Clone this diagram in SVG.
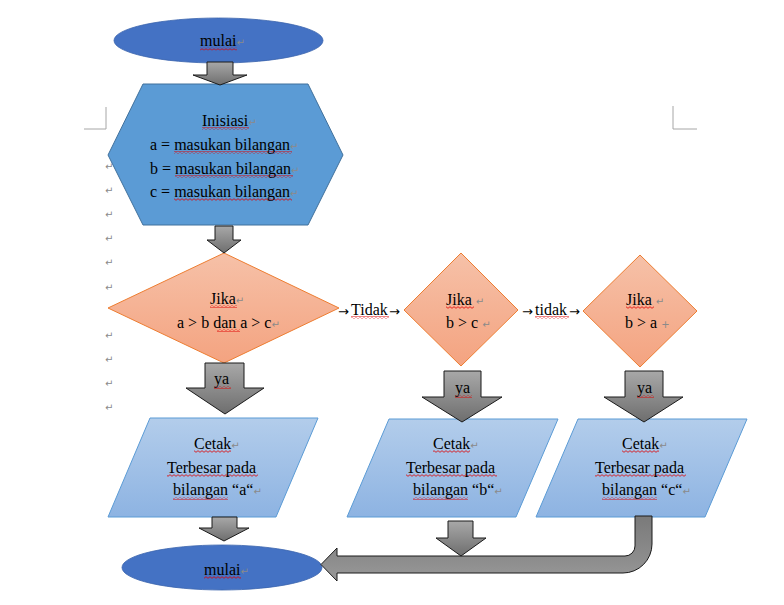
<svg xmlns="http://www.w3.org/2000/svg" width="784" height="605" viewBox="0 0 784 605">
<style>
.t{font-family:"Liberation Serif","Times New Roman",serif;font-size:16px;fill:#000}
.ar{font-family:"DejaVu Sans",sans-serif;font-size:13px;fill:#000}
.pm{font-family:"DejaVu Sans",sans-serif;font-size:10px;fill:#8a8a8a}
.arr{fill:url(#gray);stroke:#1a1a1a;stroke-width:1}
.ell{fill:#4472C4;stroke:#3b64ad;stroke-width:0.8}
.dia{fill:url(#peach);stroke:#ED7D31;stroke-width:1}
.par{fill:url(#lblue);stroke:#5B9BD5;stroke-width:1}
.sq{fill:url(#wave)}
.crn{fill:none;stroke:#a6a6a6;stroke-width:1}
</style>
<defs>
<linearGradient id="gray" x1="0" y1="0" x2="0" y2="1">
<stop offset="0" stop-color="#a8a8a8"/><stop offset="1" stop-color="#6e6e6e"/>
</linearGradient>
<linearGradient id="gray2" x1="0" y1="0" x2="0" y2="1">
<stop offset="0" stop-color="#7a7a7a"/><stop offset="0.7" stop-color="#8e8e8e"/><stop offset="1" stop-color="#999999"/>
</linearGradient>
<linearGradient id="peach" x1="0" y1="0" x2="0" y2="1">
<stop offset="0" stop-color="#F6C1A8"/><stop offset="1" stop-color="#F4A380"/>
</linearGradient>
<linearGradient id="lblue" x1="0" y1="0" x2="0" y2="1">
<stop offset="0" stop-color="#B3CDEB"/><stop offset="1" stop-color="#8DB3E2"/>
</linearGradient>
<pattern id="wave" patternUnits="userSpaceOnUse" width="4" height="3">
<path d="M0 2.3 L2 0.7 L4 2.3" fill="none" stroke="#e00000" stroke-width="0.8"/>
</pattern>
</defs>
<rect width="784" height="605" fill="#ffffff"/>

<!-- page corner marks -->
<path class="crn" d="M106 107 V129 H84"/>
<path class="crn" d="M673 106 V129 H697"/>

<!-- margin paragraph marks -->
<g class="pm">
<text x="105" y="170">↵</text>
<text x="105" y="194">↵</text>
<text x="105" y="218">↵</text>
<text x="105" y="242">↵</text>
<text x="105" y="266">↵</text>
<text x="105" y="291">↵</text>
<text x="105" y="339">↵</text>
<text x="105" y="363">↵</text>
<text x="105" y="387">↵</text>
<text x="105" y="411">↵</text>
</g>

<g id="start">
<ellipse class="ell" cx="218.5" cy="40.5" rx="104.5" ry="22.5"/>
<rect class="sq" x="200" y="47.5" width="37" height="3"/>
<text class="t" x="200" y="46">mulai<tspan class="pm">↵</tspan></text>
</g>

<g id="init">
<polygon points="143,84 308,84 343,155 308,225 143,225 108,155" fill="#5B9BD5" stroke="#41719C" stroke-width="1"/>
<rect class="sq" x="202" y="127" width="47" height="3"/>
<rect class="sq" x="174" y="151" width="118" height="3"/>
<rect class="sq" x="175" y="175" width="118" height="3"/>
<rect class="sq" x="174" y="198" width="118" height="3"/>
<text class="t" x="202" y="126">Inisiasi<tspan class="pm">↵</tspan></text>
<text class="t" x="150" y="150">a = masukan bilangan<tspan class="pm">↵</tspan></text>
<text class="t" x="150" y="174">b = masukan bilangan<tspan class="pm">↵</tspan></text>
<text class="t" x="150" y="197">c = masukan bilangan<tspan class="pm">↵</tspan></text>
</g>

<g id="cond1">
<polygon class="dia" points="224,253 339,308 224,363 108,308"/>
<rect class="sq" x="210" y="305" width="27" height="3"/>
<rect class="sq" x="217" y="329" width="23" height="3"/>
<text class="t" x="210" y="304">Jika<tspan class="pm">↵</tspan></text>
<text class="t" x="177" y="328">a &gt; b dan a &gt; c<tspan class="pm">↵</tspan></text>
</g>

<g id="cond2">
<polygon class="dia" points="461,253 518,310 461,366 404,310"/>
<rect class="sq" x="446" y="306" width="28" height="3"/>
<text class="t" x="446" y="305">Jika <tspan class="pm">↵</tspan></text>
<text class="t" x="446" y="328">b &gt; c <tspan class="pm">↵</tspan></text>
</g>

<g id="cond3">
<polygon class="dia" points="640,255 697,311 640,367 583,311"/>
<rect class="sq" x="626" y="306" width="28" height="3"/>
<text class="t" x="626" y="305">Jika <tspan class="pm">↵</tspan></text>
<text class="t" x="625" y="328">b &gt; a <tspan class="pm">+</tspan></text>
</g>

<g id="out-a">
<polygon class="par" points="150,418 318,418 276,517 108,517"/>
<rect class="sq" x="194" y="450" width="37" height="3"/>
<rect class="sq" x="167" y="474" width="91" height="3"/>
<rect class="sq" x="173" y="497" width="55" height="3"/>
<text class="t" x="194" y="449">Cetak<tspan class="pm">↵</tspan></text>
<text class="t" x="167" y="473">Terbesar pada</text>
<text class="t" x="173" y="495">bilangan “a“<tspan class="pm">↵</tspan></text>
</g>

<g id="out-b">
<polygon class="par" points="389,419 558,419 516,517 347,517"/>
<rect class="sq" x="433" y="450" width="37" height="3"/>
<rect class="sq" x="406" y="474" width="91" height="3"/>
<rect class="sq" x="413" y="497" width="55" height="3"/>
<text class="t" x="433" y="449">Cetak<tspan class="pm">↵</tspan></text>
<text class="t" x="406" y="473">Terbesar pada</text>
<text class="t" x="413" y="495">bilangan “b“<tspan class="pm">↵</tspan></text>
</g>

<g id="out-c">
<polygon class="par" points="578,419 747,419 705,517 536,517"/>
<rect class="sq" x="622" y="450" width="37" height="3"/>
<rect class="sq" x="595" y="474" width="91" height="3"/>
<rect class="sq" x="602" y="497" width="55" height="3"/>
<text class="t" x="622" y="449">Cetak<tspan class="pm">↵</tspan></text>
<text class="t" x="595" y="473">Terbesar pada</text>
<text class="t" x="602" y="495">bilangan “c“<tspan class="pm">↵</tspan></text>
</g>

<g id="end">
<ellipse class="ell" cx="222" cy="567.5" rx="100" ry="22.5"/>
<rect class="sq" x="204" y="576" width="37" height="3"/>
<text class="t" x="204" y="575">mulai<tspan class="pm">↵</tspan></text>
</g>

<g id="connectors">
<path class="arr" d="M207 62 H233 V75 H247 L220 85 L193 75 H207 Z"/>
<path class="arr" d="M215 226 H233 V240 H241 L224 253 L207 240 H215 Z"/>
<path class="arr" d="M205 363 H244 V388 H264 L225 414 L186 388 H205 Z"/>
<path class="arr" d="M212 517 H237 V528 H249 L224 541 L199 528 H212 Z"/>
<path class="arr" d="M444 371 H481 V397 H502 L462 422 L422 397 H444 Z"/>
<path class="arr" d="M625 371 H663 V397 H683 L644 422 L604 397 H625 Z"/>
<path d="M635 516 L652 516 L652 544 A29 29 0 0 1 623 573 L337 573 L337 581 L321 564.5 L337 548 L337 556 L625 556 A10 10 0 0 0 635 546 Z" fill="url(#gray2)" stroke="#1a1a1a" stroke-width="1"/>
<path class="arr" d="M448 521 H473 V538 H486 L461 556 L436 538 H448 Z"/>
<rect class="sq" x="214" y="386" width="17" height="3"/>
<text class="t" x="214" y="384">ya</text>
<rect class="sq" x="455" y="395" width="17" height="3"/>
<text class="t" x="455" y="393">ya</text>
<rect class="sq" x="637" y="395" width="17" height="3"/>
<text class="t" x="637" y="393">ya</text>
<text class="ar" x="338" y="316">→</text>
<rect class="sq" x="351" y="316" width="38" height="3"/>
<text class="t" x="351" y="315">Tidak</text>
<text class="ar" x="389" y="316">→</text>
<text class="ar" x="522" y="316">→</text>
<rect class="sq" x="535" y="316" width="34" height="3"/>
<text class="t" x="535" y="315">tidak</text>
<text class="ar" x="569" y="316">→</text>
</g>
</svg>
